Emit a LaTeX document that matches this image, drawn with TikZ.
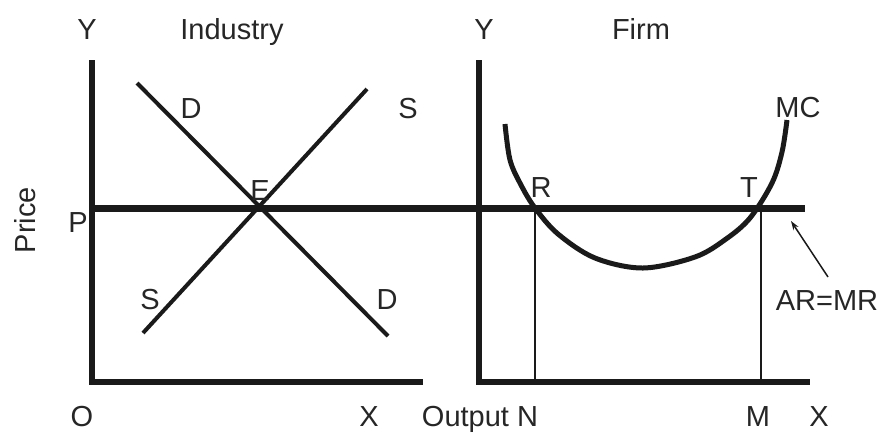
\documentclass[tikz,border=0pt]{standalone}
\usepackage{fontspec}
\setmainfont{Liberation Sans}
\usetikzlibrary{arrows.meta}
\definecolor{ink}{HTML}{1A1A1A}
\definecolor{txt}{HTML}{262626}
\tikzset{
  axisline/.style={line width=5.5pt, draw=ink, line join=miter},
  pline/.style={line width=7pt, draw=ink},
  curveline/.style={line width=4pt, draw=ink},
  mcline/.style={line width=5pt, draw=ink},
  thinline/.style={line width=1.5pt, draw=ink},
  lbl/.style={text=txt, inner sep=0pt, anchor=base, font=\fontsize{29}{34}\selectfont},
}
\begin{document}
\begin{tikzpicture}[x=1pt, y=-1pt]
\useasboundingbox (0,0) rectangle (882,432);
% coordinates
\coordinate (LYtop) at (92,60);
\coordinate (LO) at (92,382);
\coordinate (LXend) at (423,382);
\coordinate (RYtop) at (479,60);
\coordinate (RO) at (479,382);
\coordinate (RXend) at (810,382);
\coordinate (Pstart) at (92,208);
\coordinate (Pend) at (805,208);
\coordinate (Dtop) at (137,83);
\coordinate (Dbot) at (388,336);
\coordinate (Stop) at (367,89);
\coordinate (Sbot) at (143,333);
\coordinate (Rpt) at (535,208);
\coordinate (Rfoot) at (535,382);
\coordinate (Tpt) at (761,208);
\coordinate (Tfoot) at (761,382);
\coordinate (arrS) at (828,277);
\coordinate (arrE) at (791,221);
% axes
\draw[axisline] (LYtop) -- (LO) -- (LXend);
\draw[axisline] (RYtop) -- (RO) -- (RXend);
% price line
\draw[pline] (Pstart) -- (Pend);
% demand and supply
\draw[curveline] (Dtop) -- (Dbot);
\draw[curveline] (Stop) -- (Sbot);
% MC curve
\draw[mcline] plot[smooth, tension=0.55] coordinates {
  (505,124) (510,160) (521,185) (535,208) (558,234) (595,258) (643,268)
  (695,257) (726,239) (750,218) (772,183) (782,152) (787,120)};
% verticals
\draw[thinline] (Rpt) -- (Rfoot);
\draw[thinline] (Tpt) -- (Tfoot);
% arrow
\draw[thinline, -{Stealth[length=9pt,width=6pt]}] (arrS) -- (arrE);
% labels
\node[lbl] (lY1) at (87,39) {Y};
\node[lbl] (lInd) at (232,39) {Industry};
\node[lbl] (lY2) at (484,39) {Y};
\node[lbl] (lFirm) at (641,39) {Firm};
\node[lbl] (lD1) at (191,118) {D};
\node[lbl] (lS1) at (408,118) {S};
\node[lbl] (lE) at (260,200) {E};
\node[lbl] (lS2) at (150,309) {S};
\node[lbl] (lD2) at (387,309) {D};
\node[lbl] (lP) at (78,232) {P};
\node[lbl, rotate=90] (lPrice) at (35,220) {Price};
\node[lbl] (lO) at (82,426) {O};
\node[lbl] (lX1) at (369,426) {X};
\node[lbl] (lOut) at (480,426) {Output N};
\node[lbl] (lM) at (758,426) {M};
\node[lbl] (lX2) at (819,426) {X};
\node[lbl] (lR) at (541,197) {R};
\node[lbl] (lT) at (749,197) {T};
\node[lbl] (lMC) at (798,117) {MC};
\node[lbl] (lAR) at (827,310) {AR=MR};
\end{tikzpicture}
\end{document}
